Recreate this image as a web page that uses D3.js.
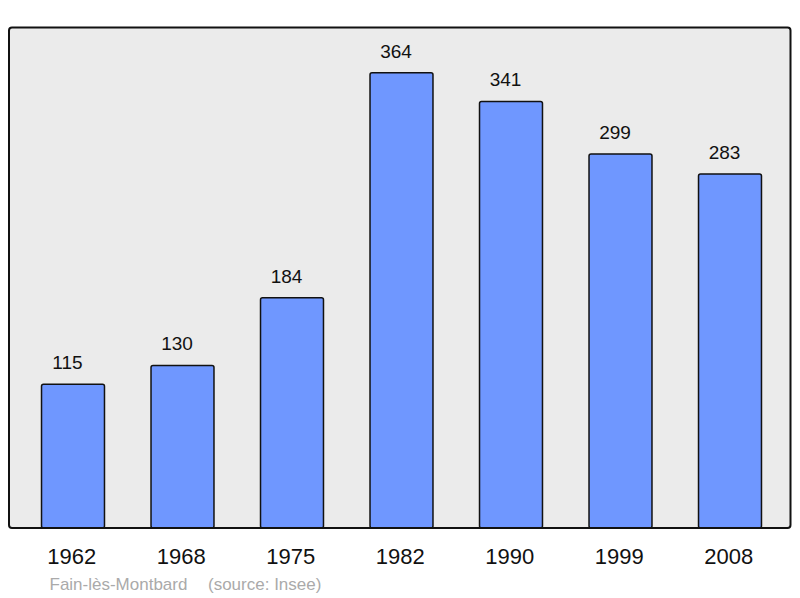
<!DOCTYPE html>
<html><head><meta charset="utf-8">
<script src="https://cdn.jsdelivr.net/npm/d3@7"></script>
<style>body{margin:0;background:#fff}svg{display:block}</style>
</head><body>
<script>
const years = ["1962","1968","1975","1982","1990","1999","2008"];
const population = [115,130,184,364,341,299,283];
const place = "Fain-lès-Montbard";
const source = "(source: Insee)";

const W = 800, H = 598;
const svg = d3.select("body").append("svg").attr("width", W).attr("height", H);
const font = "'Liberation Sans', Arial, sans-serif";

svg.append("rect").attr("x", 9).attr("y", 27.5).attr("width", 781.5).attr("height", 500.5)
  .attr("rx", 3).attr("fill", "#ebebeb").attr("stroke", "none");

const x = d3.scaleBand().domain(years).range([18.25, 784.75]).paddingInner(0.425).paddingOuter(0.2125);
const y = d3.scaleLinear().domain([0, 400]).range([528, 27.7]);

svg.selectAll("rect.bar").data(population).join("rect").attr("class","bar")
  .attr("x", (d,i) => x(years[i]))
  .attr("y", d => y(d))
  .attr("width", x.bandwidth())
  .attr("height", d => y(0) - y(d))
  .attr("rx", 2)
  .attr("fill", "#6f97ff").attr("stroke", "#111").attr("stroke-width", 1.5);

svg.selectAll("text.val").data(population).join("text").attr("class","val")
  .attr("x", (d,i) => x(years[i]) + x.bandwidth()/2 - 5.5)
  .attr("y", d => y(d) - 15)
  .attr("text-anchor", "middle").attr("font-family", font).attr("font-size", 19)
  .attr("fill", "#111").text(d => d);

// frame
svg.append("rect").attr("x", 9).attr("y", 27.5).attr("width", 781.5).attr("height", 500.5)
  .attr("rx", 3).attr("fill", "none").attr("stroke", "#111").attr("stroke-width", 2);

const axis = d3.axisBottom(x).tickSize(0).tickPadding(0);
const g = svg.append("g").attr("transform", "translate(-1.3,528)").call(axis);
g.select(".domain").remove();
g.selectAll("text").attr("font-family", font).attr("font-size", 22).attr("fill", "#111")
  .attr("dy", null).attr("y", 36);

svg.append("text").attr("x", 49.5).attr("y", 590).attr("font-family", font).attr("font-size", 17)
  .attr("fill", "#aaaaaa").text(place);
svg.append("text").attr("x", 208).attr("y", 590).attr("font-family", font).attr("font-size", 17)
  .attr("fill", "#aaaaaa").text(source);
</script>
</body></html>
